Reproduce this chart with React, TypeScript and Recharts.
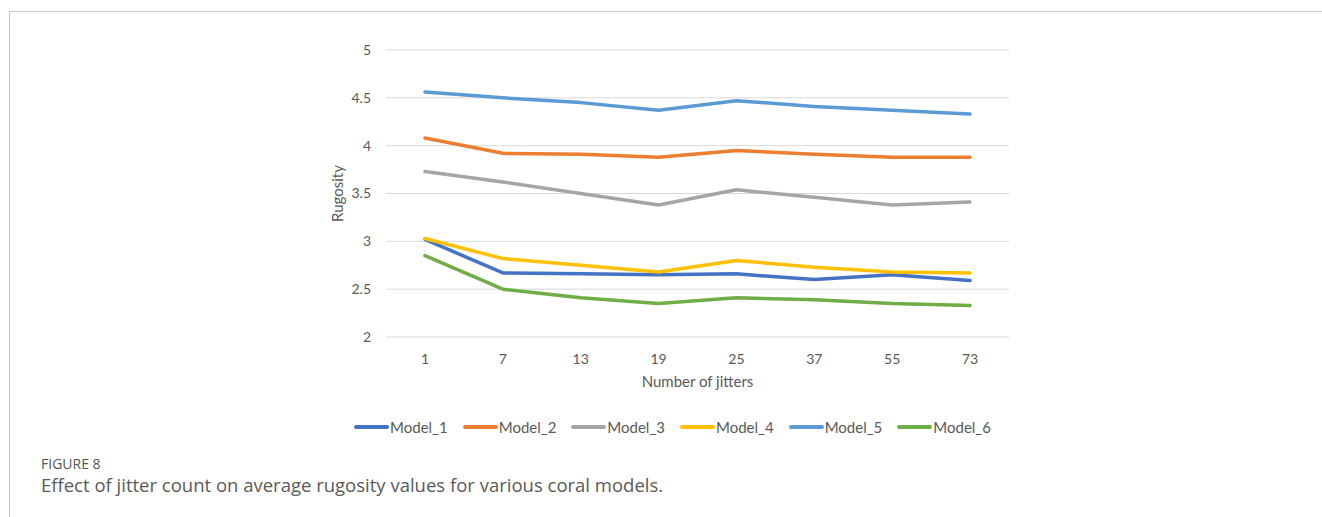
import React from 'react';
import { LineChart, Line, XAxis, YAxis, CartesianGrid, Legend } from 'recharts';

// Jitter counts used for each run
const jitters = ['1', '7', '13', '19', '25', '37', '55', '73'];

// Average rugosity per coral model
const model1 = [3.02, 2.67, 2.66, 2.65, 2.66, 2.6, 2.65, 2.59];
const model2 = [4.08, 3.92, 3.91, 3.88, 3.95, 3.91, 3.88, 3.88];
const model3 = [3.73, 3.62, 3.5, 3.38, 3.54, 3.46, 3.38, 3.41];
const model4 = [3.03, 2.82, 2.75, 2.68, 2.8, 2.73, 2.68, 2.67];
const model5 = [4.56, 4.5, 4.45, 4.37, 4.47, 4.41, 4.37, 4.33];
const model6 = [2.85, 2.5, 2.41, 2.35, 2.41, 2.39, 2.35, 2.33];

const yTicks = [2, 2.5, 3, 3.5, 4, 4.5, 5];

const series = [
  { key: 'Model_1', values: model1, color: '#4472C4' },
  { key: 'Model_2', values: model2, color: '#ED7D31' },
  { key: 'Model_3', values: model3, color: '#A5A5A5' },
  { key: 'Model_4', values: model4, color: '#FFC000' },
  { key: 'Model_5', values: model5, color: '#5B9BD5' },
  { key: 'Model_6', values: model6, color: '#70AD47' },
];

const data = jitters.map((j, i) => {
  const row: Record<string, string | number> = { jitters: j };
  series.forEach((s) => {
    row[s.key] = s.values[i];
  });
  return row;
});

const FONT = 'Lato, "Open Sans", sans-serif';
const TEXT = '#595959';

const renderLegend = (props: any) => {
  const payload = props.payload || [];
  return (
    <div
      style={{
        display: 'flex',
        justifyContent: 'center',
        alignItems: 'center',
        height: 20,
        fontFamily: FONT,
        fontSize: 15,
        color: TEXT,
      }}
    >
      {payload.map((item: any, i: number) => (
        <div
          key={item.value}
          style={{ display: 'flex', alignItems: 'center', marginRight: i === payload.length - 1 ? 0 : 15 }}
        >
          <span style={{ display: 'inline-block', width: 35, height: 3.5, background: item.color, borderRadius: 2 }} />
          <span style={{ marginLeft: 1 }}>{item.value}</span>
        </div>
      ))}
    </div>
  );
};

export default function App() {
  return (
    <div style={{ position: 'absolute', left: 0, top: 0, width: 1322, height: 517, background: '#fff', overflow: 'hidden' }}>
      {/* panel frame */}
      <div style={{ position: 'absolute', left: 9, top: 11, right: 0, height: 1, background: '#c8c8c8' }} />
      <div style={{ position: 'absolute', left: 9, top: 11, bottom: 0, width: 1, background: '#c8c8c8' }} />

      <div style={{ position: 'absolute', left: 0, top: 0 }}>
        <LineChart width={1322} height={517} data={data} margin={{ top: 50, right: 313, bottom: 80, left: 336 }}>
          <CartesianGrid horizontal vertical={false} stroke="#d9d9d9" strokeWidth={1} />
          <XAxis
            dataKey="jitters"
            height={80}
            padding={{ left: 39, right: 39 }}
            axisLine={false}
            tickLine={false}
            tickMargin={11}
            tick={{ fill: TEXT, fontSize: 14, fontFamily: FONT }}
            label={{ value: 'Number of jitters', position: 'insideTop', offset: 39, fill: TEXT, fontSize: 15, fontFamily: FONT }}
          />
          <YAxis
            width={50}
            domain={[2, 5]}
            ticks={yTicks}
            axisLine={false}
            tickLine={false}
            tickMargin={9}
            tick={{ fill: TEXT, fontSize: 14, fontFamily: FONT }}
            label={{
              value: 'Rugosity',
              angle: -90,
              position: 'insideLeft',
              offset: 2,
              fill: TEXT,
              fontSize: 15,
              fontFamily: FONT,
              style: { textAnchor: 'middle' },
            }}
          />
          <Legend verticalAlign="bottom" content={renderLegend} />
          {series.map((s) => (
            <Line
              key={s.key}
              dataKey={s.key}
              name={s.key}
              type="linear"
              stroke={s.color}
              strokeWidth={3.5}
              strokeLinecap="round"
              strokeLinejoin="round"
              dot={false}
              activeDot={false}
              isAnimationActive={false}
            />
          ))}
        </LineChart>
      </div>

      <div style={{ position: 'absolute', left: 41, top: 454, fontFamily: '"Open Sans", sans-serif', color: '#555', fontSize: 14 }}>
        FIGURE 8
      </div>
      <div style={{ position: 'absolute', left: 41, top: 472, fontFamily: '"Open Sans", sans-serif', color: '#5a5a5a', fontSize: 18.5 }}>
        Effect of jitter count on average rugosity values for various coral models.
      </div>
    </div>
  );
}
